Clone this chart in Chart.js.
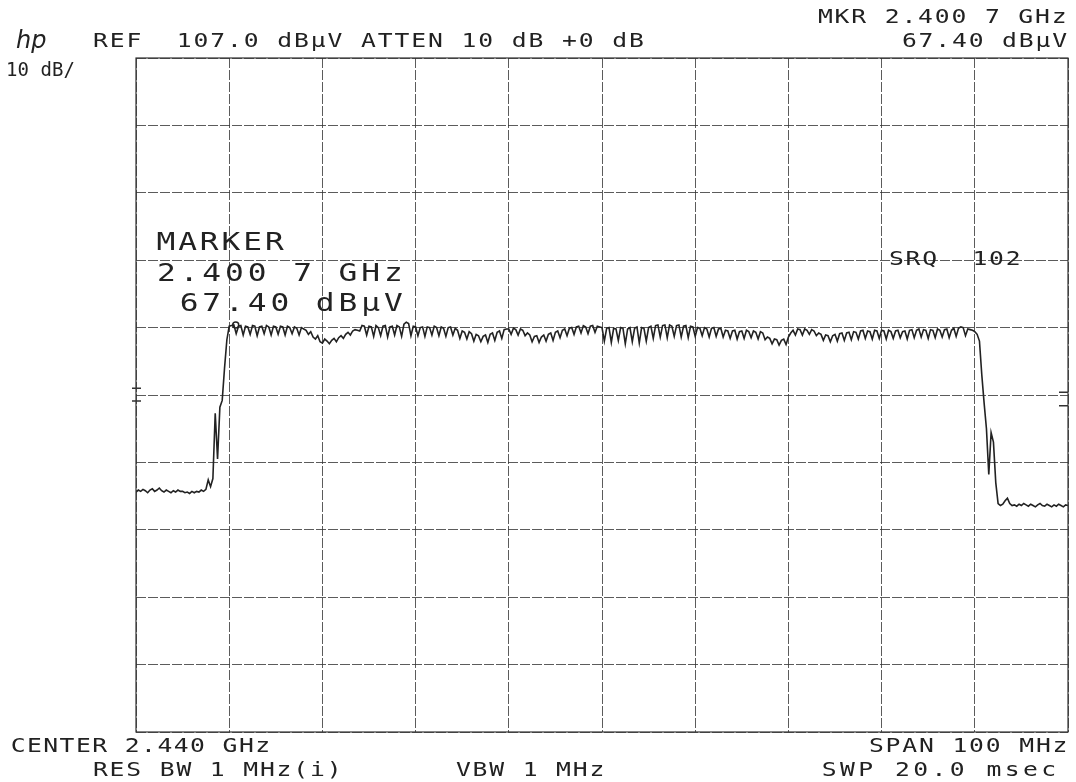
<!DOCTYPE html>
<html>
<head>
<meta charset="utf-8">
<script src="https://cdn.jsdelivr.net/npm/chart.js@4.4.1/dist/chart.umd.min.js"></script>
<style>
  html, body { margin: 0; padding: 0; background: #fff; }
  canvas { display: block; }
</style>
</head>
<body>
<canvas id="espectro" width="1076" height="782"></canvas>
<script>
  // sweep: 401 points, center 2440 MHz, span 100 MHz
  const sweepStartMHz = 2390;
  const sweepStepMHz = 0.25;
  const spanMHz = [2390, 2490];
  const levelRange = [7, 107];

  // trace level, dBuV (one row = 5 MHz)
  const traceLevel = [
    42.6, 42.9, 42.7, 43.0, 42.8, 42.5, 42.9, 43.1, 42.7, 42.9, 43.2, 42.8, 42.6, 42.9, 42.7, 42.5, 42.8, 42.6, 42.9, 42.7,
    42.7, 42.5, 42.6, 42.4, 42.7, 42.5, 42.7, 42.6, 42.9, 42.7, 43.0, 44.4, 43.4, 44.6, 54.3, 47.5, 55.2, 56.2, 61.0, 65.2,
    67.2, 67.3, 67.4, 66.1, 67.2, 67.3, 65.9, 67.2, 67.1, 66.0, 67.3, 67.2, 65.8, 67.1, 67.2, 66.1, 67.3, 67.1, 65.9, 67.2,
    67.1, 66.0, 67.2, 67.1, 65.9, 67.2, 67.0, 66.1, 67.1, 66.9, 65.9, 67.0, 66.8, 66.6, 66.0, 66.4, 65.6, 65.3, 65.8, 64.9,
    64.7, 65.3, 65.0, 64.6, 65.1, 65.4, 64.9, 65.5, 65.8, 65.4, 66.0, 66.3, 65.9, 66.5, 66.7, 66.6, 66.5, 67.3, 67.2, 65.9,
    67.2, 67.1, 65.7, 67.3, 67.0, 65.8, 67.2, 67.3, 65.6, 67.1, 67.2, 65.9, 67.3, 67.1, 65.7, 67.5, 67.8, 67.6, 65.8, 67.2,
    67.1, 65.8, 67.0, 67.1, 65.7, 67.1, 67.0, 65.9, 67.2, 67.0, 65.8, 67.1, 66.9, 65.7, 67.0, 67.1, 65.9, 66.9, 66.6, 65.4,
    66.5, 66.3, 65.3, 66.4, 66.1, 65.0, 66.0, 65.8, 64.9, 65.7, 65.9, 64.8, 66.0, 66.2, 65.1, 66.3, 66.5, 65.4, 66.7, 66.8,
    66.8, 66.0, 66.9, 66.7, 65.9, 66.8, 66.6, 65.8, 66.2, 65.9, 64.9, 65.7, 65.8, 64.8, 65.6, 65.9, 65.0, 66.0, 66.2, 65.1,
    66.3, 66.5, 65.5, 66.6, 66.8, 65.8, 66.9, 67.0, 66.0, 67.1, 67.2, 66.2, 67.3, 67.1, 66.1, 67.2, 67.3, 66.3, 67.2, 67.1,
    67.0, 65.0, 66.9, 67.0, 64.8, 66.9, 66.8, 65.1, 67.0, 66.9, 64.6, 66.8, 67.0, 64.9, 66.9, 67.1, 64.7, 67.0, 66.9, 65.0,
    67.0, 67.2, 65.4, 67.3, 67.4, 65.6, 67.3, 67.4, 65.5, 67.4, 67.2, 65.7, 67.3, 67.4, 65.6, 67.2, 67.3, 65.5, 67.2, 67.1,
    65.7, 67.0, 66.9, 65.8, 67.0, 66.8, 65.6, 66.9, 67.0, 65.7, 66.8, 66.9, 65.6, 66.6, 66.5, 65.4, 66.5, 66.6, 65.3, 66.4,
    66.5, 65.4, 66.6, 66.4, 65.5, 66.5, 66.3, 65.3, 66.4, 66.2, 65.2, 65.6, 65.4, 64.6, 65.3, 65.2, 64.4, 65.1, 65.3, 64.5,
    65.6, 66.2, 66.6, 65.9, 66.8, 66.7, 65.9, 66.8, 66.6, 66.0, 66.7, 66.5, 65.8, 66.2, 66.0, 65.1, 65.9, 65.8, 64.9, 65.8,
    66.0, 65.0, 66.1, 66.2, 65.1, 66.2, 66.3, 65.2, 66.4, 66.3, 65.3, 66.5, 66.6, 65.4, 66.5, 66.4, 65.3, 66.6, 66.5, 65.4,
    66.6, 66.5, 65.3, 66.6, 66.4, 65.4, 66.5, 66.6, 65.5, 66.4, 66.5, 65.3, 66.6, 66.7, 65.5, 66.6, 66.8, 65.6, 66.7, 66.6,
    65.4, 66.7, 66.6, 65.5, 66.8, 66.6, 65.6, 66.7, 66.8, 65.5, 66.6, 66.9, 65.7, 66.9, 67.1, 67.0, 65.8, 66.8, 66.7, 66.6,
    66.4, 66.0, 65.0, 60.0, 55.8, 52.0, 45.2, 51.4, 50.0, 44.0, 40.9, 40.6, 40.8, 41.3, 41.7, 40.9, 40.6, 40.7, 40.5, 40.8,
    40.6, 40.9, 40.7, 40.5, 40.8, 40.6, 40.4, 40.7, 40.9, 40.6, 40.5, 40.8, 40.6, 40.4, 40.7, 40.5, 40.8, 40.6, 40.4, 40.7,
    40.6
  ];

  const markerFreqMHz = [2400.7];
  const markerLevel = [67.4];

  // little display-line marks on the frame edges (dBuV)
  const leftMarks = [58.0, 56.1];
  const rightMarks = [57.4, 55.4];

  const tracePoints = traceLevel.map((v, i) => ({ x: sweepStartMHz + i * sweepStepMHz, y: v }));
  const markerPoints = markerFreqMHz.map((f, i) => ({ x: f, y: markerLevel[i] }));

  const ink = "#222";

  // plotter-like lettering: fixed pitch, glyphs stretched wide
  function plotterText(ctx, str, x, y, pitch, size, stretch) {
    ctx.font = size + 'px "DejaVu Sans Mono"';
    ctx.textAlign = "center";
    ctx.textBaseline = "middle";
    for (let k = 0; k < str.length; k++) {
      ctx.save();
      ctx.translate(x + pitch * (k + 0.5), y);
      ctx.scale(stretch || 1.3, 1);
      ctx.fillText(str[k], 0, 0);
      ctx.restore();
    }
  }

  const anotacoes = {
    id: "anotacoes",
    afterDraw(chart) {
      const ctx = chart.ctx;
      const a = chart.chartArea;
      const y = chart.scales.y;
      ctx.save();

      // frame
      ctx.strokeStyle = "#333";
      ctx.lineWidth = 1.2;
      ctx.strokeRect(a.left, a.top, a.right - a.left, a.bottom - a.top);

      // edge marks
      ctx.lineWidth = 1.5;
      ctx.beginPath();
      leftMarks.forEach((v) => {
        ctx.moveTo(a.left - 4, y.getPixelForValue(v));
        ctx.lineTo(a.left + 5, y.getPixelForValue(v));
      });
      rightMarks.forEach((v) => {
        ctx.moveTo(a.right - 9, y.getPixelForValue(v));
        ctx.lineTo(a.right, y.getPixelForValue(v));
      });
      ctx.stroke();

      ctx.fillStyle = ink;

      // hp logo
      ctx.font = 'italic 24px "DejaVu Sans"';
      ctx.textAlign = "left";
      ctx.textBaseline = "middle";
      ctx.fillText("hp", 16, 42);

      plotterText(ctx, "REF  107.0 dBμV ATTEN 10 dB +0 dB", 92, 42, 16.75, 19);
      plotterText(ctx, "MKR 2.400 7 GHz", 817, 18, 16.7, 19);
      plotterText(ctx, "67.40 dBμV", 901, 42, 16.7, 19);
      plotterText(ctx, "10 dB/", 6, 71, 11.5, 19, 1.0);

      plotterText(ctx, "MARKER", 155, 244, 21.7, 24, 1.3);
      plotterText(ctx, "2.400 7 GHz", 155, 275, 22.7, 24, 1.3);
      plotterText(ctx, " 67.40 dBμV", 155, 305, 22.7, 24, 1.3);

      plotterText(ctx, "SRQ  102", 888, 260, 16.7, 19);

      plotterText(ctx, "CENTER 2.440 GHz", 10, 747, 16.3, 19);
      plotterText(ctx, "SPAN 100 MHz", 868, 747, 16.7, 19);
      plotterText(ctx, "RES BW 1 MHz(i)", 92, 771, 16.7, 19);
      plotterText(ctx, "VBW 1 MHz", 455, 771, 16.7, 19);
      plotterText(ctx, "SWP 20.0 msec", 820, 771, 18.3, 19);

      ctx.restore();
    },
  };

  const ctx = document.getElementById("espectro");

  var espectro = new Chart(ctx, {
    type: "line",
    data: {
      datasets: [
        {
          label: "Trace A",
          data: tracePoints,
          borderColor: ink,
          borderWidth: 1.6,
          pointRadius: 0,
          tension: 0,
          fill: false,
        },
        {
          label: "Marker",
          data: markerPoints,
          showLine: false,
          pointStyle: "circle",
          pointRadius: 3,
          borderWidth: 1.5,
          borderColor: ink,
          backgroundColor: "#fff",
        },
      ],
    },
    options: {
      responsive: false,
      animation: false,
      layout: {
        padding: { left: 136, right: 8, top: 58, bottom: 50 },
      },
      plugins: {
        legend: { display: false },
        tooltip: { enabled: false },
      },
      scales: {
        x: {
          type: "linear",
          min: spanMHz[0],
          max: spanMHz[1],
          ticks: { display: false, stepSize: 10 },
          grid: { color: "rgba(50, 50, 50, 0.8)", lineWidth: 1, drawTicks: false },
          border: { display: false, dash: [10, 2] },
        },
        y: {
          type: "linear",
          min: levelRange[0],
          max: levelRange[1],
          ticks: { display: false, stepSize: 10 },
          grid: { color: "rgba(50, 50, 50, 0.8)", lineWidth: 1, drawTicks: false },
          border: { display: false, dash: [10, 2] },
        },
      },
    },
    plugins: [anotacoes],
  });
</script>
</body>
</html>
